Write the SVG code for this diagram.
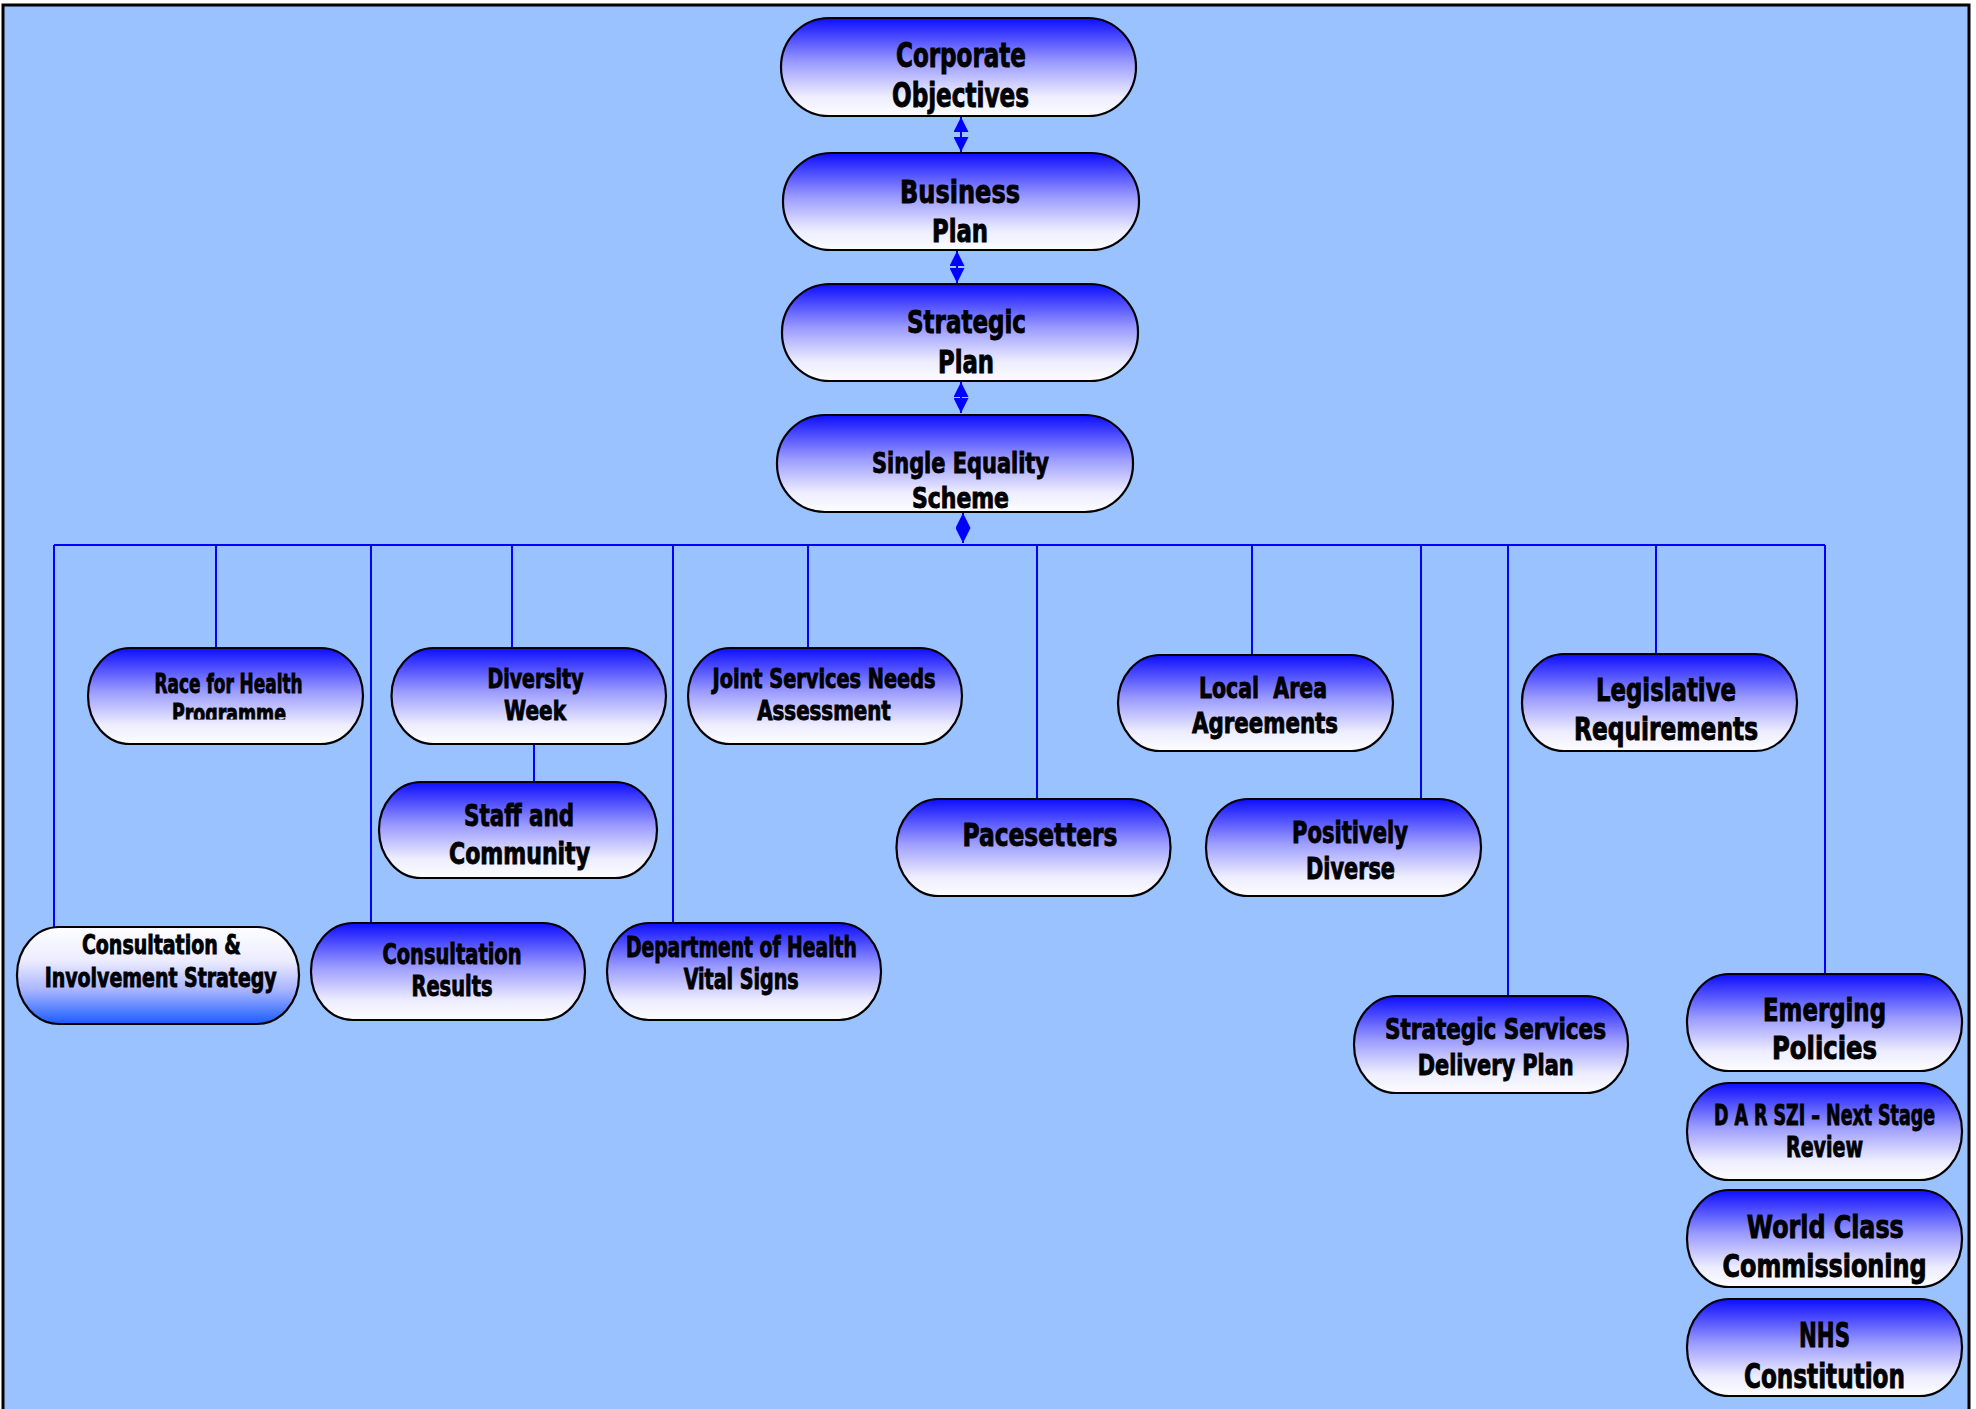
<svg xmlns="http://www.w3.org/2000/svg" width="1976" height="1409" viewBox="0 0 1976 1409">
<defs>
<linearGradient id="gBlue" x1="0" y1="0" x2="0" y2="1">
<stop offset="0" stop-color="#0d0dff"/>
<stop offset="0.45" stop-color="#9a9aff"/>
<stop offset="0.8" stop-color="#ededff"/>
<stop offset="1" stop-color="#fdfdff"/>
</linearGradient>
<linearGradient id="gRev" x1="0" y1="0" x2="0" y2="1">
<stop offset="0" stop-color="#fefeff"/>
<stop offset="0.35" stop-color="#ececff"/>
<stop offset="0.65" stop-color="#a8b4ff"/>
<stop offset="1" stop-color="#1a5cff"/>
</linearGradient>
<marker id="arr" viewBox="0 0 15 15" refX="15" refY="7.5" markerUnits="userSpaceOnUse" markerWidth="15" markerHeight="15" orient="auto-start-reverse">
<path d="M0,0 L15,7.5 L0,15 z" fill="#0000ff"/>
</marker>
<clipPath id="clipRace"><rect x="88" y="640" width="275" height="79.5"/></clipPath>
</defs>
<style>
.pill{fill:url(#gBlue);stroke:#000;stroke-width:2.2}
.pillR{fill:url(#gRev);stroke:#000;stroke-width:2.2}
.t{font-family:"DejaVu Sans Condensed","DejaVu Sans","Liberation Sans",sans-serif;font-weight:bold;fill:#000;stroke:#000;stroke-width:0.9;text-anchor:middle;white-space:pre}
.ln{stroke:#0000ff;stroke-width:2;fill:none}
.ar{stroke:#0000ff;stroke-width:2;fill:none;marker-start:url(#arr);marker-end:url(#arr)}
</style>
<rect x="0" y="0" width="1976" height="1409" fill="#ffffff"/>
<rect x="3" y="5" width="1966" height="1450" fill="#99c2ff" stroke="#000" stroke-width="3"/>

<g id="connectors">
<line class="ar" x1="961" y1="117" x2="961" y2="152"/>
<line class="ar" x1="957" y1="251" x2="957" y2="283"/>
<line class="ar" x1="961" y1="382" x2="961" y2="413"/>
<line class="ar" x1="963" y1="513" x2="963" y2="543"/>
<line class="ln" x1="54" y1="545" x2="1825" y2="545"/>
<line class="ln" x1="54" y1="545" x2="54" y2="929"/>
<line class="ln" x1="216" y1="545" x2="216" y2="648"/>
<line class="ln" x1="371" y1="545" x2="371" y2="923"/>
<line class="ln" x1="512" y1="545" x2="512" y2="648"/>
<line class="ln" x1="534" y1="744" x2="534" y2="782"/>
<line class="ln" x1="673" y1="545" x2="673" y2="923"/>
<line class="ln" x1="808" y1="545" x2="808" y2="648"/>
<line class="ln" x1="1037" y1="545" x2="1037" y2="799"/>
<line class="ln" x1="1252" y1="545" x2="1252" y2="655"/>
<line class="ln" x1="1421" y1="545" x2="1421" y2="799"/>
<line class="ln" x1="1508" y1="545" x2="1508" y2="996"/>
<line class="ln" x1="1656" y1="545" x2="1656" y2="654"/>
<line class="ln" x1="1825" y1="545" x2="1825" y2="974"/>
</g>

<g id="corporate-objectives">
<rect class="pill" x="781" y="18" width="355" height="98" rx="48" ry="49"/>
<text class="t" x="961" y="67" font-size="33" textLength="130" lengthAdjust="spacingAndGlyphs">Corporate</text>
<text class="t" x="960.5" y="107" font-size="33" textLength="137" lengthAdjust="spacingAndGlyphs">Objectives</text>
</g>
<g id="business-plan">
<rect class="pill" x="783" y="153" width="356" height="97" rx="48" ry="48"/>
<text class="t" x="960" y="203" font-size="32" textLength="120" lengthAdjust="spacingAndGlyphs">Business</text>
<text class="t" x="960" y="242" font-size="32" textLength="56" lengthAdjust="spacingAndGlyphs">Plan</text>
</g>
<g id="strategic-plan">
<rect class="pill" x="782" y="284" width="356" height="97" rx="48" ry="48"/>
<text class="t" x="966.5" y="333" font-size="32" textLength="119" lengthAdjust="spacingAndGlyphs">Strategic</text>
<text class="t" x="966" y="373" font-size="32" textLength="56" lengthAdjust="spacingAndGlyphs">Plan</text>
</g>
<g id="single-equality-scheme">
<rect class="pill" x="777" y="415" width="356" height="97" rx="48" ry="48"/>
<text class="t" x="960.5" y="473" font-size="29" textLength="177" lengthAdjust="spacingAndGlyphs">Single Equality</text>
<text class="t" x="960.5" y="508" font-size="29" textLength="97" lengthAdjust="spacingAndGlyphs">Scheme</text>
</g>
<g id="race-for-health">
<rect class="pill" x="88" y="648" width="275" height="96" rx="42" ry="48"/>
<text class="t" x="228.6" y="693" font-size="26" textLength="148" lengthAdjust="spacingAndGlyphs">Race for Health</text>
<text class="t" x="229" y="723" font-size="26" textLength="114" lengthAdjust="spacingAndGlyphs" clip-path="url(#clipRace)">Programme</text>
</g>
<g id="diversity-week">
<rect class="pill" x="391.5" y="648" width="274.5" height="96" rx="42" ry="48"/>
<text class="t" x="535.5" y="688" font-size="26.5" textLength="96" lengthAdjust="spacingAndGlyphs">Diversity</text>
<text class="t" x="535" y="720" font-size="26.5" textLength="62" lengthAdjust="spacingAndGlyphs">Week</text>
</g>
<g id="staff-and-community">
<rect class="pill" x="379" y="782" width="278" height="96" rx="42" ry="48"/>
<text class="t" x="519" y="826" font-size="31" textLength="110" lengthAdjust="spacingAndGlyphs">Staff and</text>
<text class="t" x="519.5" y="864" font-size="31" textLength="141" lengthAdjust="spacingAndGlyphs">Community</text>
</g>
<g id="joint-services">
<rect class="pill" x="688" y="648" width="274" height="96" rx="42" ry="48"/>
<text class="t" x="824" y="688" font-size="26" textLength="223" lengthAdjust="spacingAndGlyphs">Joint Services Needs</text>
<text class="t" x="824" y="720" font-size="26" textLength="133.5" lengthAdjust="spacingAndGlyphs">Assessment</text>
</g>
<g id="pacesetters">
<rect class="pill" x="896.5" y="799" width="274" height="97" rx="42" ry="48"/>
<text class="t" x="1040" y="846" font-size="31.5" textLength="155" lengthAdjust="spacingAndGlyphs">Pacesetters</text>
</g>
<g id="local-area-agreements">
<rect class="pill" x="1118" y="655" width="275" height="96" rx="42" ry="48"/>
<text class="t" x="1263" y="698" font-size="29" textLength="128" lengthAdjust="spacingAndGlyphs">Local  Area</text>
<text class="t" x="1265" y="733" font-size="29" textLength="146" lengthAdjust="spacingAndGlyphs">Agreements</text>
</g>
<g id="positively-diverse">
<rect class="pill" x="1206" y="799" width="275" height="97" rx="42" ry="48"/>
<text class="t" x="1350" y="843" font-size="30" textLength="116" lengthAdjust="spacingAndGlyphs">Positively</text>
<text class="t" x="1350.5" y="879" font-size="30" textLength="89" lengthAdjust="spacingAndGlyphs">Diverse</text>
</g>
<g id="legislative-requirements">
<rect class="pill" x="1522" y="654" width="275" height="97" rx="42" ry="48"/>
<text class="t" x="1666" y="701" font-size="32" textLength="140" lengthAdjust="spacingAndGlyphs">Legislative</text>
<text class="t" x="1666" y="740" font-size="32" textLength="184" lengthAdjust="spacingAndGlyphs">Requirements</text>
</g>
<g id="consultation-involvement">
<rect class="pillR" x="17" y="927" width="282" height="97" rx="42" ry="48"/>
<text class="t" x="161.4" y="953.5" font-size="27" textLength="159" lengthAdjust="spacingAndGlyphs">Consultation &amp;</text>
<text class="t" x="160.7" y="987" font-size="27" textLength="232" lengthAdjust="spacingAndGlyphs">Involvement Strategy</text>
</g>
<g id="consultation-results">
<rect class="pill" x="311" y="923" width="274" height="97" rx="42" ry="48"/>
<text class="t" x="452" y="964" font-size="27.5" textLength="139" lengthAdjust="spacingAndGlyphs">Consultation</text>
<text class="t" x="452" y="996" font-size="27.5" textLength="81" lengthAdjust="spacingAndGlyphs">Results</text>
</g>
<g id="department-of-health">
<rect class="pill" x="607" y="923" width="274" height="97" rx="42" ry="48"/>
<text class="t" x="741.4" y="957" font-size="27.5" textLength="231" lengthAdjust="spacingAndGlyphs">Department of Health</text>
<text class="t" x="741.2" y="989" font-size="27.5" textLength="115" lengthAdjust="spacingAndGlyphs">Vital Signs</text>
</g>
<g id="strategic-services">
<rect class="pill" x="1354" y="996" width="274" height="97" rx="42" ry="48"/>
<text class="t" x="1495.5" y="1038.5" font-size="29" textLength="221" lengthAdjust="spacingAndGlyphs">Strategic Services</text>
<text class="t" x="1495.7" y="1075" font-size="29" textLength="156" lengthAdjust="spacingAndGlyphs">Delivery Plan</text>
</g>
<g id="emerging-policies">
<rect class="pill" x="1687" y="974" width="275" height="97" rx="42" ry="48"/>
<text class="t" x="1824.5" y="1021" font-size="31.5" textLength="123" lengthAdjust="spacingAndGlyphs">Emerging</text>
<text class="t" x="1824.5" y="1059" font-size="31.5" textLength="105" lengthAdjust="spacingAndGlyphs">Policies</text>
</g>
<g id="darszi-next-stage-review">
<rect class="pill" x="1687" y="1083" width="275" height="97" rx="42" ry="48"/>
<text class="t" x="1824.5" y="1124.5" font-size="28" textLength="221" lengthAdjust="spacingAndGlyphs">D A R SZI – Next Stage</text>
<text class="t" x="1824.5" y="1157" font-size="28" textLength="77" lengthAdjust="spacingAndGlyphs">Review</text>
</g>
<g id="world-class-commissioning">
<rect class="pill" x="1687" y="1190" width="275" height="97" rx="42" ry="48"/>
<text class="t" x="1825.3" y="1237.5" font-size="32" textLength="157" lengthAdjust="spacingAndGlyphs">World Class</text>
<text class="t" x="1824.6" y="1276.5" font-size="32" textLength="204" lengthAdjust="spacingAndGlyphs">Commissioning</text>
</g>
<g id="nhs-constitution">
<rect class="pill" x="1687" y="1299" width="275" height="97" rx="42" ry="48"/>
<text class="t" x="1824.5" y="1347" font-size="34" textLength="51" lengthAdjust="spacingAndGlyphs">NHS</text>
<text class="t" x="1824.5" y="1388" font-size="34" textLength="161" lengthAdjust="spacingAndGlyphs">Constitution</text>
</g>
</svg>
